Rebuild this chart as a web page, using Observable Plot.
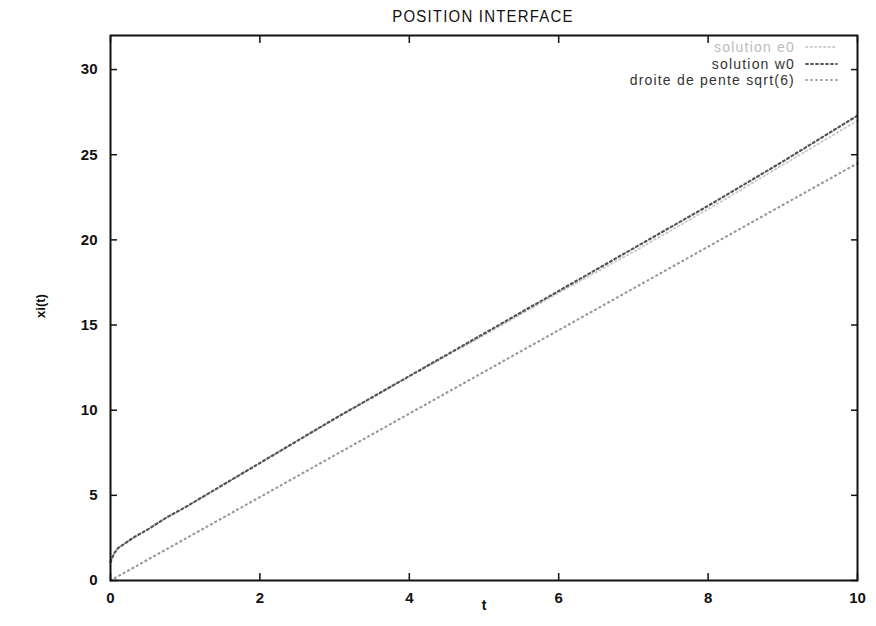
<!DOCTYPE html>
<html>
<head>
<meta charset="utf-8">
<script src="https://cdn.jsdelivr.net/npm/d3@7"></script>
<script src="https://cdn.jsdelivr.net/npm/@observablehq/plot@0.6"></script>
<style>
  html, body { margin: 0; padding: 0; background: #fff; }
  #wrap { position: relative; width: 876px; height: 626px; font-family: "Liberation Sans", Arial, sans-serif; }
  #title { position: absolute; left: 0; width: 966px; top: 8px; text-align: center; font-size: 15px; color: #111; letter-spacing: 1.2px; transform: scaleY(1.05); }
  #legend { position: absolute; left: 560px; width: 278px; top: 39px; font-size: 14px; color: #333; }
  .row { display: flex; align-items: center; justify-content: flex-end; height: 16.5px; white-space: nowrap; }
  .row span.lab { letter-spacing: 1.2px; }
  .sample { width: 33px; margin-left: 10px; }
  #plot { position: absolute; left: 0; top: 0; }
</style>
</head>
<body>
<div id="wrap">
  <div id="plot"></div>
  <div id="title">POSITION INTERFACE</div>
  <div id="legend"></div>
</div>
<script>
// Time values (t) and series
const tW0 = [0, 0.05, 0.1, 0.2, 0.3, 0.5, 0.75, 1, 1.5, 2, 3, 4, 5, 6, 7, 8, 9, 10];
const solutionW0 = [1.1, 1.6, 1.9, 2.2, 2.5, 3.0, 3.7, 4.3, 5.6, 6.9, 9.5, 12.0, 14.5, 17.0, 19.5, 22.0, 24.6, 27.3];
const tE0 = [0, 0.05, 0.1, 0.2, 0.3, 0.5, 0.75, 1, 1.5, 2, 3, 4, 5, 6, 7, 8, 9, 10];
const solutionE0 = [1.1, 1.6, 1.9, 2.2, 2.5, 3.0, 3.7, 4.3, 5.6, 6.9, 9.5, 12.0, 14.4, 16.9, 19.3, 21.8, 24.4, 27.0];
const tLine = [0, 10];
const droite = [0, 24.5];
const xTicks = [0, 2, 4, 6, 8, 10];
const yTicks = [0, 5, 10, 15, 20, 25, 30];
const legendLabels = ["solution e0", "solution w0", "droite de pente sqrt(6)"];

const w0 = tW0.map((t, i) => ({t, y: solutionW0[i]}));
const e0 = tE0.map((t, i) => ({t, y: solutionE0[i]}));
const dr = tLine.map((t, i) => ({t, y: droite[i]}));

const tickFont = {fontSize: 15, fontWeight: "bold", fill: "#111"};

const chart = Plot.plot({
  width: 876,
  height: 626,
  marginLeft: 110,
  marginRight: 19,
  marginTop: 35,
  marginBottom: 46,
  style: {fontFamily: "Liberation Sans, Arial, sans-serif", background: "white", overflow: "visible"},
  x: {domain: [0, 10]},
  y: {domain: [0, 32]},
  marks: [
    Plot.line(e0, {x: "t", y: "y", stroke: "#c8c8c8", strokeWidth: 1.8, strokeDasharray: "1.5,3", strokeLinecap: "round"}),
    Plot.line(dr, {x: "t", y: "y", stroke: "#9a9a9a", strokeWidth: 2.2, strokeDasharray: "1,4", strokeLinecap: "round"}),
    Plot.line(w0, {x: "t", y: "y", stroke: "#555", strokeWidth: 2.2, strokeDasharray: "2,3", strokeLinecap: "round"}),
    Plot.axisX({anchor: "bottom", ticks: xTicks, tickSize: -7, tickPadding: 19, tickFormat: d => d, label: null, ...tickFont, stroke: "#111", strokeWidth: 1.5}),
    Plot.axisX({anchor: "top", ticks: xTicks, tickSize: -7, tickFormat: () => "", label: null, stroke: "#111", strokeWidth: 1.5}),
    Plot.axisY({anchor: "left", ticks: yTicks, tickSize: -7, tickPadding: 20, tickFormat: d => d, label: null, ...tickFont, stroke: "#111", strokeWidth: 1.5}),
    Plot.axisY({anchor: "right", ticks: yTicks, tickSize: -7, tickFormat: () => "", label: null, stroke: "#111", strokeWidth: 1.5}),
    Plot.frame({stroke: "#111", strokeWidth: 2})
  ]
});

// Axis titles
const svg = d3.select(chart);
svg.append("text")
  .attr("x", 484).attr("y", 610)
  .attr("text-anchor", "middle")
  .attr("font-size", 14).attr("font-weight", "bold").attr("fill", "#111")
  .text("t");
svg.append("text")
  .attr("transform", "translate(45,306) rotate(-90)")
  .attr("text-anchor", "middle")
  .attr("font-size", 13).attr("font-weight", "bold").attr("fill", "#111")
  .text("xi(t)");

document.getElementById("plot").appendChild(chart);

// Legend (sample line drawn as small SVG)
const legendStyles = [
  {color: "#bbb", stroke: "#cfcfcf", dash: "1.5,3"},
  {color: "#333", stroke: "#555", dash: "2,3"},
  {color: "#333", stroke: "#a0a0a0", dash: "1,4"}
];
const leg = document.getElementById("legend");
legendLabels.forEach((lab, i) => {
  const row = document.createElement("div");
  row.className = "row";
  const s = document.createElement("span");
  s.className = "lab";
  s.textContent = lab;
  s.style.color = legendStyles[i].color;
  row.appendChild(s);
  const sample = d3.create("svg").attr("class", "sample").attr("width", 33).attr("height", 6);
  sample.append("line").attr("x1", 1).attr("x2", 32).attr("y1", 3).attr("y2", 3)
    .attr("stroke", legendStyles[i].stroke).attr("stroke-width", 1.8)
    .attr("stroke-dasharray", legendStyles[i].dash).attr("stroke-linecap", "round");
  row.appendChild(sample.node());
  leg.appendChild(row);
});
</script>
</body>
</html>
